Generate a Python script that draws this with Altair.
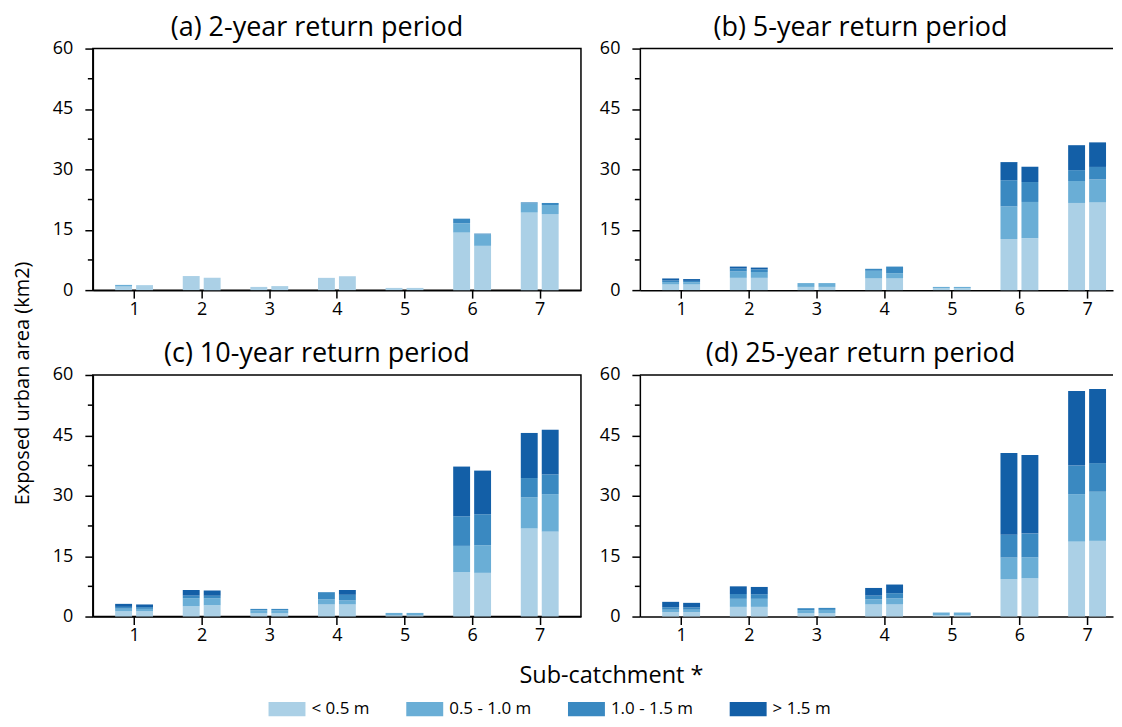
import altair as alt
import pandas as pd

catchments = [1, 2, 3, 4, 5, 6, 7]
depth_classes = ["< 0.5 m", "0.5 - 1.0 m", "1.0 - 1.5 m", "> 1.5 m"]
colors = ["#abd0e6", "#6aaed6", "#3a89c1", "#135fa7"]
panel_titles = [
    "(a) 2-year return period",
    "(b) 5-year return period",
    "(c) 10-year return period",
    "(d) 25-year return period",
]

# order of values in each list: catchment 1 bar 1, catchment 1 bar 2, catchment 2 bar 1, ...
rp2_lt05 = [0.9, 1.0, 3.5, 3.05, 0.8, 1.0, 3.05, 3.45, 0.55, 0.55, 14.3, 11.0, 19.25, 18.9]
rp2_05_10 = [0.4, 0.15, 0, 0, 0, 0, 0, 0, 0, 0, 2.3, 2.8, 2.25, 2.25]
rp2_10_15 = [0, 0, 0, 0, 0, 0, 0, 0, 0, 0, 1.15, 0.25, 0.3, 0.5]
rp2_gt15 = [0, 0, 0, 0, 0, 0, 0, 0, 0, 0, 0, 0, 0, 0]

rp5_lt05 = [1.4, 1.4, 3.05, 3.05, 0.8, 0.8, 2.9, 2.9, 0.5, 0.5, 12.7, 12.9, 21.65, 21.8]
rp5_05_10 = [0.6, 0.55, 1.6, 1.45, 0.95, 0.95, 1.9, 1.3, 0.3, 0.3, 8.1, 9.0, 5.45, 5.7]
rp5_10_15 = [0.4, 0.35, 0.7, 0.65, 0, 0, 0.5, 1.65, 0, 0, 6.5, 4.95, 2.7, 3.1]
rp5_gt15 = [0.5, 0.45, 0.5, 0.45, 0, 0, 0, 0, 0, 0, 4.5, 3.8, 6.2, 6.1]

rp10_lt05 = [1.3, 1.3, 2.55, 2.8, 0.8, 0.8, 3.0, 3.0, 0.3, 0.3, 11.0, 10.85, 21.9, 21.1]
rp10_05_10 = [0.65, 0.6, 2.0, 1.75, 0.75, 0.75, 1.3, 1.0, 0.6, 0.6, 6.55, 6.85, 7.7, 9.3]
rp10_10_15 = [0.45, 0.45, 0.65, 0.6, 0.35, 0.35, 1.75, 1.4, 0, 0, 7.35, 7.7, 4.8, 4.9]
rp10_gt15 = [0.75, 0.65, 1.4, 1.3, 0, 0, 0, 1.2, 0, 0, 12.35, 10.85, 11.2, 11.1]

rp25_lt05 = [1.1, 1.1, 2.4, 2.4, 0.8, 0.8, 3.0, 3.0, 0.3, 0.3, 9.27, 9.5, 18.6, 18.8]
rp25_05_10 = [0.6, 0.6, 2.0, 2.0, 0.8, 0.85, 1.3, 1.5, 0.7, 0.7, 5.38, 5.2, 11.8, 12.2]
rp25_10_15 = [0.6, 0.55, 1.2, 1.15, 0.47, 0.5, 0.9, 1.3, 0, 0, 5.65, 5.9, 7.1, 7.1]
rp25_gt15 = [1.35, 1.15, 1.9, 1.8, 0, 0, 1.9, 2.15, 0, 0, 20.35, 19.5, 18.5, 18.4]

panels = [
    [rp2_lt05, rp2_05_10, rp2_10_15, rp2_gt15],
    [rp5_lt05, rp5_05_10, rp5_10_15, rp5_gt15],
    [rp10_lt05, rp10_05_10, rp10_10_15, rp10_gt15],
    [rp25_lt05, rp25_05_10, rp25_10_15, rp25_gt15],
]

y_ticks = [0, 15, 30, 45, 60]
y_minor = [7.5, 22.5, 37.5, 52.5]
bar_start = [-0.28, 0.03]
bar_width = 0.25

rows = []
for p, layers in enumerate(panels):
    for k in range(14):
        c = catchments[k // 2]
        b = k % 2
        base = 0.0
        for d, vals in enumerate(layers):
            v = vals[k]
            rows.append({
                "panel": p, "catchment": c, "bar": b, "depth": depth_classes[d],
                "order": d, "value": v, "y0": base, "y1": base + v,
                "x0": c + bar_start[b], "x1": c + bar_start[b] + bar_width,
            })
            base += v
df = pd.DataFrame(rows)
df = df[df["value"] > 0]

FONT = "Open Sans"
H = 242
W_LEFT = 489
W_RIGHT = 474
X_MIN = 0.39
X_MAX_LEFT = 7.61
X_MAX_RIGHT = 7.383


def make_panel(i, width, xmax, full_frame, show_xtitle, show_ytitle, dx):
    if show_xtitle:
        x_axis = alt.Axis(values=catchments, format="d", labelPadding=2,
                          title="Sub-catchment *", titleFont=FONT, titleFontSize=23.5,
                          titleFontWeight="normal", titleColor="black",
                          titleX=519, titleY=59, titleBaseline="middle", titleAlign="center")
    else:
        x_axis = alt.Axis(values=catchments, format="d", labelPadding=2, title=None)
    if show_ytitle:
        y_axis = alt.Axis(values=y_ticks, labelPadding=12, title="Exposed urban area (km2)",
                          titleFont=FONT, titleFontSize=20, titleFontWeight="normal",
                          titleColor="black", titleX=-60, titleY=335, titleAlign="center",
                          titleAngle=270, titleBaseline="bottom")
    else:
        y_axis = alt.Axis(values=y_ticks, labelPadding=12, title=None)

    y_scale = alt.Scale(domain=[0, 60], nice=False)
    bars = alt.Chart(df[df["panel"] == i]).mark_bar(strokeWidth=0).encode(
        x=alt.X("x0:Q", scale=alt.Scale(domain=[X_MIN, xmax], nice=False, zero=False), axis=x_axis),
        x2="x1:Q",
        y=alt.Y("y0:Q", scale=y_scale, axis=y_axis),
        y2="y1:Q",
        color=alt.Color("depth:N", scale=alt.Scale(domain=depth_classes, range=colors),
                        legend=alt.Legend(title=None, orient="none", legendX=176, legendY=643,
                                          direction="horizontal", columns=4,
                                          symbolType="M-1,-0.38H1V0.38H-1Z", symbolSize=1369,
                                          symbolStrokeWidth=0, symbolOpacity=1,
                                          labelFont=FONT, labelFontSize=17, labelColor="black",
                                          columnPadding=36, labelOffset=6)),
        order=alt.Order("order:Q"),
    )
    minor = alt.Chart(pd.DataFrame({"m": y_minor})).mark_rule(color="black", strokeWidth=1.5).encode(
        y=alt.Y("m:Q", scale=y_scale, axis=y_axis),
        x=alt.value(-5),
        x2=alt.value(0),
    )
    layers = [bars, minor]
    if not full_frame:
        top = alt.Chart(pd.DataFrame({"t": [0]})).mark_rule(color="black", strokeWidth=1.5).encode(
            y=alt.value(0), x=alt.value(0), x2=alt.value(width)
        )
        layers.append(top)
    ch = alt.layer(*layers).properties(
        width=width, height=H,
        title=alt.TitleParams(panel_titles[i], font=FONT, fontSize=27, fontWeight="normal",
                              color="black", offset=-2, dx=dx, anchor="middle", frame="group"),
    )
    if not full_frame:
        ch = ch.properties(view=alt.ViewBackground(stroke=None))
    return ch


pa = make_panel(0, W_LEFT, X_MAX_LEFT, True, False, True, -20)
pb = make_panel(1, W_RIGHT, X_MAX_RIGHT, False, False, False, -16)
pc = make_panel(2, W_LEFT, X_MAX_LEFT, True, True, False, -20)
pd_ = make_panel(3, W_RIGHT, X_MAX_RIGHT, False, False, False, -16)

chart = alt.concat(pa, pb, pc, pd_, columns=2, spacing={"row": 85, "column": 59},
                   bounds="flush").properties(
    padding={"left": 4, "top": 4, "right": 0, "bottom": 0}
).configure_axis(
    labelFont=FONT, labelFontSize=18, labelColor="black", tickColor="black",
    domainColor="black", tickSize=8, tickWidth=1.5, domainWidth=1.5, grid=False,
).configure_view(
    stroke="black", strokeWidth=1.5
)

chart.save("out.html", embed_options={"renderer": "svg", "actions": False})
